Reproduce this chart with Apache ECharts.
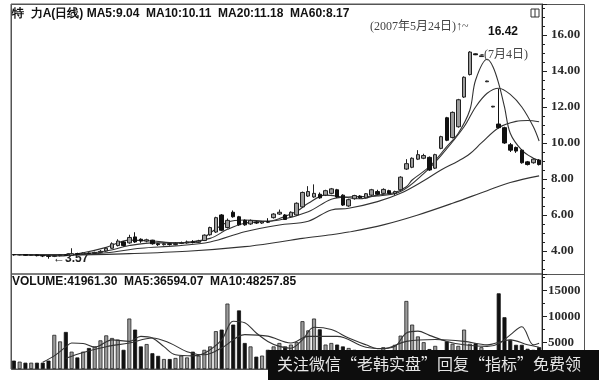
<!DOCTYPE html>
<html>
<head>
<meta charset="utf-8">
<script src="https://cdn.jsdelivr.net/npm/echarts@6/dist/echarts.min.js"></script>
<style>
html,body{margin:0;padding:0;background:#fff;}
#c{width:599px;height:380px;}
</style>
</head>
<body>
<div id="c"></div>
<script>
// ---- data ----
const days = [1,2,3,4,5,6,7,8,9,10,11,12,13,14,15,16,17,18,19,20,21,22,23,24,25,26,27,28,29,30,
31,32,33,34,35,36,37,38,39,40,41,42,43,44,45,46,47,48,49,50,51,52,53,54,55,56,57,58,59,60,
61,62,63,64,65,66,67,68,69,70,71,72,73,74,75,76,77,78,79,80,81,82,83,84,85,86,87,88,89,90,91,92];

// [open, close, low, high]
const candles = [
[3.80,3.78,3.74,3.83],[3.78,3.80,3.75,3.82],[3.80,3.76,3.72,3.82],[3.76,3.78,3.73,3.80],
[3.78,3.74,3.70,3.80],[3.74,3.72,3.66,3.77],[3.72,3.70,3.57,3.75],[3.70,3.74,3.66,3.78],
[3.74,3.78,3.70,3.82],[3.78,3.76,3.72,3.82],[3.76,3.85,3.74,4.15],[3.85,3.82,3.78,3.90],
[3.82,3.88,3.80,3.92],[3.88,3.86,3.82,3.92],[3.86,3.92,3.84,3.96],[3.92,3.98,3.88,4.05],
[4.00,4.15,3.96,4.18],[4.15,4.40,4.12,4.48],[4.30,4.55,4.25,4.65],[4.50,4.30,4.25,4.55],
[4.45,4.75,4.40,4.90],[4.78,4.50,4.45,5.04],[4.65,4.55,4.45,4.70],[4.55,4.62,4.48,4.68],
[4.60,4.40,4.35,4.62],[4.40,4.35,4.28,4.45],[4.35,4.40,4.30,4.45],[4.40,4.36,4.30,4.44],
[4.36,4.42,4.32,4.48],[4.42,4.45,4.38,4.52],[4.45,4.50,4.40,4.58],[4.50,4.48,4.42,4.60],
[4.48,4.55,4.44,4.62],[4.58,4.88,4.55,4.92],[4.90,5.30,4.85,5.35],[5.05,5.85,5.00,5.90],
[6.00,5.15,5.10,6.05],[5.30,5.70,5.25,5.80],[6.15,5.90,5.85,6.25],[5.90,5.45,5.40,5.95],
[5.70,5.45,5.40,5.75],[5.50,5.70,5.45,5.75],[5.60,5.55,5.50,5.65],[5.55,5.62,5.50,5.66],
[5.62,5.60,5.55,5.82],[5.85,6.05,5.80,6.10],[6.05,6.15,6.00,6.30],[6.00,5.75,5.72,6.05],
[5.90,6.15,5.85,6.20],[6.00,6.65,5.95,6.70],[6.45,7.25,6.40,7.30],[7.05,7.30,7.00,7.60],
[7.00,7.20,6.95,7.70],[7.15,6.95,6.90,7.25],[7.10,7.35,7.05,7.40],[7.20,7.45,7.15,7.50],
[7.40,7.00,6.95,7.45],[7.10,6.55,6.50,7.15],[6.50,6.85,6.45,6.90],[6.90,7.08,6.85,7.12],
[7.05,6.95,6.90,7.10],[6.95,7.18,6.92,7.22],[7.10,7.40,7.05,7.45],[7.30,7.15,7.10,7.40],
[7.20,7.42,7.15,7.48],[7.35,7.20,7.15,7.40],[7.20,7.30,7.10,7.35],[7.40,8.10,7.35,8.15],
[8.55,8.85,8.50,9.10],[8.65,9.15,8.60,9.20],[9.10,9.35,9.05,9.60],[9.15,9.30,9.10,9.40],
[9.20,8.50,8.45,9.25],[8.60,9.35,8.55,9.40],[9.70,10.35,9.65,10.40],[11.40,10.15,10.10,11.45],
[10.30,11.70,10.25,11.75],[10.90,12.40,10.85,12.45],[12.55,13.65,12.50,13.70],[13.80,15.05,13.75,15.10],
[14.95,14.90,14.88,14.97],[14.80,14.84,14.78,14.86],[13.40,13.44,13.38,13.46],[12.00,12.04,11.98,12.06],
[11.05,10.85,10.80,13.00],[10.85,10.00,9.95,10.90],[9.90,9.60,9.50,10.00],[9.75,9.55,9.45,9.80],
[9.60,8.90,8.85,9.65],[8.95,8.80,8.75,9.00],[8.90,9.10,8.85,9.15],[9.05,8.80,8.75,9.10]
];

const volumes = [1600,1400,1200,1200,1200,1200,1600,6500,5250,7050,3300,2200,3300,4000,4300,5450,
6400,5900,5600,3650,9600,7500,4300,4750,3000,2500,1900,1900,2100,2550,2200,3300,2550,3650,4300,7200,
7500,12450,8450,11150,4950,4300,2350,2550,3650,4300,4950,4300,4650,5100,9100,7350,9600,7550,4650,4950,
4650,4300,4000,3650,3100,2900,3000,3300,4150,3500,4600,6350,12950,8450,6200,5100,3800,4400,3500,5250,
4800,4400,7500,4800,4900,4150,3500,3500,14400,9850,5550,4600,4600,3850,3650,4150];

// moving averages: [day index, value]
const ma5 = [[0,3.80],[4,3.77],[8,3.72],[12,3.90],[16,4.20],[20,4.60],[24,4.55],[28,4.45],[32,4.50],
[34,5.00],[37,5.60],[40,5.72],[44,5.65],[46,5.80],[49,6.20],[51,6.65],[54,7.10],[57,7.00],[60,6.90],
[63,7.10],[66,7.25],[67.5,7.57],[69,7.94],[72,8.68],[75,9.80],[77,10.54],[78.6,11.83],[80.3,13.50],
[82,14.65],[83,14.24],[84,13.30],[85,12.00],[86.4,10.54],[87.8,9.60],[89.6,9.15],[91,9.04]];
const ma10 = [[0,3.80],[5,3.79],[10,3.80],[16,4.00],[20,4.30],[24,4.45],[28,4.45],[34,4.70],[37,5.20],
[40,5.54],[46,5.72],[51,6.18],[55,6.87],[58,7.00],[63,7.05],[67,7.30],[71,8.30],[74,9.30],[78,10.90],
[80,12.00],[82,12.76],[84,13.04],[86,12.70],[87.5,12.00],[89.5,10.90],[91,10.11]];
const ma20 = [[0,3.80],[5,3.79],[10,3.78],[16,3.90],[22,4.15],[28,4.28],[34,4.50],[40,5.07],[46,5.44],
[51,5.65],[55,6.28],[58,6.37],[63,6.74],[67,7.20],[71,7.90],[74,8.50],[77,9.00],[79,9.40],[81,10.00],
[84,10.85],[87,11.20],[89,11.25],[91,11.18]];
const ma60 = [[0,3.80],[10,3.78],[20,3.85],[30,3.98],[40,4.24],[46,4.50],[50,4.70],[55,4.90],[58,5.05],
[64,5.45],[70,6.00],[76,6.65],[82,7.35],[86,7.80],[91,8.17]];
const vma5 = [[5,1300],[7,2500],[9,4200],[10,4950],[12,4850],[14,4150],[17,5550],[20,5250],[22,6200],
[24,5900],[26,4250],[28,2700],[31,2500],[33,3000],[36,5550],[38,9100],[40,8800],[42,6850],[44,5250],
[46,4300],[48,3950],[50,5550],[52,7950],[55,7500],[58,5900],[61,4600],[63,3850],[66,4300],[68,6850],
[70,7200],[72,6400],[75,5250],[78,4600],[82,4300],[84,4800],[86,6500],[88,8050],[90,4600],[91,4900]];
const vma10 = [[9,2050],[12,3150],[16,4250],[20,4950],[24,5900],[27,4950],[30,3300],[33,2700],[36,4000],
[40,6550],[44,6250],[48,4950],[51,6200],[56,6200],[61,4150],[64,3900],[68,5250],[73,5600],[78,5250],
[82,4600],[86,5550],[89,4600],[91,4150]];

const titleText = '特  力A(日线) MA5:9.04  MA10:10.11  MA20:11.18  MA60:8.17';
const volTitle = 'VOLUME:41961.30  MA5:36594.07  MA10:48257.85';

// ---- chart ----
const chart = echarts.init(document.getElementById('c'), null, {renderer:'canvas'});
const lineStyleMA = {color:'#333', width:1.1};
function maSeries(data, xi, yi){
  return {type:'line', xAxisIndex:xi, yAxisIndex:yi, data:data, smooth:0.35, symbol:'none',
    lineStyle:lineStyleMA, silent:true, z:3};
}
const volData = volumes.map((v,i)=>{
  const up = candles[i][1] >= candles[i][0];
  return {value:v, itemStyle: up ? {color:'#9c9c9c', borderColor:'#222', borderWidth:0.8}
                                 : {color:'#111', borderColor:'#111', borderWidth:0.8}};
});
const axisLabelStyle = {color:'#2a2a2a', fontFamily:'"Liberation Serif", serif', fontWeight:'bold', fontSize:13};

chart.setOption({
  animation:false,
  backgroundColor:'#fff',
  grid:[
    {left:11, width:531, top:4, height:270, show:true, borderColor:'#555', borderWidth:1},
    {left:11, width:531, top:274, height:95, show:true, borderColor:'#555', borderWidth:1}
  ],
  xAxis:[
    {type:'category', gridIndex:0, data:days, boundaryGap:true, axisLine:{show:false}, axisTick:{show:false}, axisLabel:{show:false}},
    {type:'category', gridIndex:1, data:days, boundaryGap:true, axisLine:{show:false}, axisTick:{show:false}, axisLabel:{show:false}}
  ],
  yAxis:[
    {type:'value', gridIndex:0, position:'right', min:2.72, max:17.72, splitNumber:7, scale:true,
     axisLine:{show:true, lineStyle:{color:'#222'}}, axisTick:{show:true, length:5, lineStyle:{color:'#222'}},
     minorTick:{show:true, splitNumber:4, length:3, lineStyle:{color:'#222'}},
     splitLine:{show:false},
     axisLabel:Object.assign({margin:9, showMinLabel:false, showMaxLabel:false,
       formatter:function(v){ return Math.abs(v/2 - Math.round(v/2))<1e-6 ? v.toFixed(2) : ''; }}, axisLabelStyle)},
    {type:'value', gridIndex:1, position:'right', min:0, max:18077, interval:5000,
     axisLine:{show:true, lineStyle:{color:'#222'}}, axisTick:{show:true, length:5, lineStyle:{color:'#222'}},
     minorTick:{show:true, splitNumber:2, length:3, lineStyle:{color:'#222'}},
     splitLine:{show:false},
     axisLabel:Object.assign({margin:6, showMinLabel:false, showMaxLabel:false,
       formatter:function(v){ return (v>0 && v%5000===0) ? String(v) : ''; }}, axisLabelStyle)}
  ],
  series:[
    {type:'candlestick', xAxisIndex:0, yAxisIndex:0, data:candles, barWidth:4, silent:true, z:4,
     itemStyle:{color:'#9c9c9c', color0:'#111', borderColor:'#222', borderColor0:'#111', borderWidth:1}},
    maSeries(ma5,0,0), maSeries(ma10,0,0), maSeries(ma20,0,0), maSeries(ma60,0,0),
    {type:'bar', xAxisIndex:1, yAxisIndex:1, data:volData, barWidth:4, silent:true, z:2},
    maSeries(vma5,1,1), maSeries(vma10,1,1)
  ],
  graphic:[
    {type:'rect', shape:{x:11.5, y:4.5, width:573, height:365}, style:{fill:null, stroke:'#555', lineWidth:1}, silent:true},
    {type:'line', shape:{x1:542, y1:274.5, x2:585, y2:274.5}, style:{stroke:'#555', lineWidth:1}, silent:true},
    {type:'rect', shape:{x:531, y:9, width:8, height:8}, style:{fill:null, stroke:'#333', lineWidth:1}, silent:true},
    {type:'line', shape:{x1:535, y1:9, x2:535, y2:17}, style:{stroke:'#333', lineWidth:1}, silent:true},
    {type:'text', left:12, top:8, style:{text:titleText, font:'bold 12px "Liberation Sans", Arial, sans-serif', fill:'#111'}, silent:true},
    {type:'text', left:12, top:276, style:{text:volTitle, font:'bold 12px "Liberation Sans", Arial, sans-serif', fill:'#111'}, silent:true},
    {type:'text', left:370, top:21, style:{text:'(2007年5月24日)↑~', font:'12px "Liberation Serif", "Noto Sans CJK SC", serif', fill:'#444'}, silent:true},
    {type:'text', left:488, top:26, style:{text:'16.42', font:'bold 12px "Liberation Sans", Arial, sans-serif', fill:'#111'}, silent:true},
    {type:'text', left:480, top:49, style:{text:'-(7月4日)', font:'12px "Liberation Serif", "Noto Sans CJK SC", serif', fill:'#444'}, silent:true},
    {type:'text', left:53, top:253, style:{text:'←3.57', font:'bold 12px "Liberation Sans", Arial, sans-serif', fill:'#222'}, silent:true},
    {type:'rect', shape:{x:268, y:350, width:331, height:30}, style:{fill:'#0d0d0d'}, silent:true, z:100},
    {type:'text', left:277, top:356, z:101, style:{text:'关注微信“老韩实盘”回复“指标”免费领', font:'16px "Noto Sans CJK SC", sans-serif', fill:'#e6e6e6'}, silent:true}
  ]
});
</script>
</body>
</html>
